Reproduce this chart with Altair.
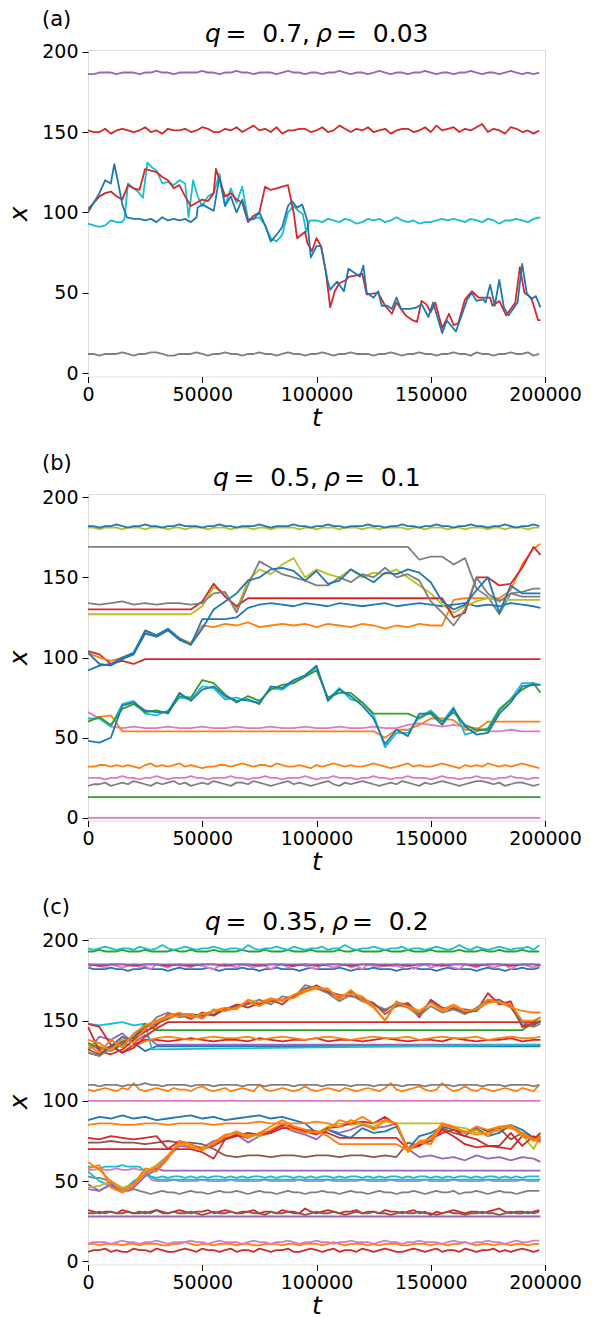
import altair as alt
import pandas as pd

# common time grids
T = [0, 5000, 10000, 15000, 20000, 25000, 30000, 35000, 40000, 45000,
     50000, 55000, 60000, 65000, 70000, 75000, 80000, 85000, 90000, 95000,
     100000, 105000, 110000, 115000, 120000, 125000, 130000, 135000, 140000, 145000,
     150000, 155000, 160000, 165000, 170000, 175000, 180000, 185000, 190000, 195000,
     198000]
T2 = list(range(0, 198000, 2500))   # 80 sample times
T_FULL = [0, 198000]

X_TICKS = [0, 50000, 100000, 150000, 200000]
Y_TICKS = [0, 50, 100, 150, 200]

PAL = {"blue": "#1f77b4", "orange": "#ff7f0e", "green": "#2ca02c", "red": "#d62728",
       "purple": "#9467bd", "brown": "#8c564b", "pink": "#e377c2", "gray": "#7f7f7f",
       "olive": "#bcbd22", "cyan": "#17becf"}

# ---------------- panel (a) ----------------
a_gray = [12, 12, 11, 12, 12, 12, 13, 12, 11, 12, 12, 13, 13, 12, 11, 11, 12, 12, 12, 13,
          12, 11, 12, 12, 13, 12, 12, 11, 12, 12, 13, 12, 12, 11, 12, 13, 12, 12, 11, 12,
          12, 13, 12, 11, 12, 12, 13, 12, 12, 12, 11, 12, 12, 13, 12, 11, 12, 12, 13, 12,
          12, 11, 12, 12, 13, 12, 12, 11, 13, 12, 12, 11, 12, 12, 13, 12, 12, 13, 11, 12]
a_purple = [186, 186, 187, 187, 187, 186, 187, 187, 187, 186, 187, 187, 188, 187, 187, 186, 187, 187, 187, 187,
            188, 187, 187, 186, 187, 187, 188, 187, 187, 186, 187, 187, 187, 186, 187, 188, 187, 187, 186, 187,
            187, 186, 187, 187, 188, 187, 186, 187, 187, 186, 187, 188, 187, 186, 187, 187, 186, 187, 187, 188,
            187, 186, 187, 187, 186, 187, 187, 188, 187, 186, 187, 187, 186, 187, 188, 187, 186, 187, 186, 187]
a_red_top = [151, 150, 150, 152, 149, 151, 152, 151, 150, 151, 153, 150, 151, 149, 152, 151, 151, 152, 150, 151,
             153, 152, 150, 150, 152, 151, 153, 150, 152, 154, 151, 152, 150, 153, 149, 151, 151, 152, 152, 150,
             151, 153, 150, 151, 154, 152, 150, 152, 151, 153, 150, 151, 152, 149, 151, 152, 152, 150, 151, 153,
             150, 154, 151, 152, 153, 150, 152, 151, 153, 155, 150, 152, 151, 149, 153, 152, 150, 151, 149, 151]
a_cyan_t = [0, 2500, 5000, 7500, 10000, 12500, 15000, 16000, 17500, 20000,
            22500, 24000, 26000, 28000, 30000, 32500, 35000, 37500, 40000, 42500,
            44000, 46000, 48000, 50000, 52500, 55000, 57500, 60000, 62500, 65000,
            67500, 70000, 72500, 75000, 77500, 80000, 82500, 85000, 87500, 90000,
            92000, 94000, 95500, 97000, 100000, 102500, 105000, 107500, 110000, 112500,
            115000, 117500, 120000, 122500, 125000, 127500, 130000, 132500, 135000, 137500,
            140000, 142500, 145000, 147500, 150000, 152500, 155000, 157500, 160000, 162500,
            165000, 167500, 170000, 172500, 175000, 177500, 180000, 182500, 185000, 187500,
            190000, 192500, 195000, 198000]
a_cyan = [93, 92, 91, 92, 95, 94, 94, 96, 118, 115,
          112, 109, 131, 128, 126, 118, 119, 117, 120, 118,
          97, 120, 110, 104, 110, 112, 124, 104, 115, 106,
          116, 96, 96, 97, 92, 84, 82, 86, 100, 104,
          101, 99, 88, 95, 95, 94, 96, 95, 94, 96,
          95, 93, 94, 96, 95, 96, 94, 95, 97, 95,
          94, 95, 93, 94, 94, 95, 96, 95, 96, 95,
          94, 96, 95, 94, 96, 95, 93, 95, 95, 96,
          95, 94, 96, 97]
a_red_w_t = [0, 2500, 5000, 7500, 10000, 12500, 15000, 17500, 20000, 22500,
             25000, 27500, 30000, 32500, 35000, 37500, 40000, 42500, 45000, 47500,
             50000, 52500, 55000, 56000, 60000, 62500, 65000, 67500, 70000, 72500,
             75000, 77500, 80000, 82500, 85000, 87500, 90000, 91500, 95000, 96000,
             98000, 100000, 102000, 104000, 106000, 108000, 110000, 113000, 114000, 118000,
             120000, 122000, 127000, 130000, 133000, 135000, 139000, 142000, 144000, 146000,
             148000, 150000, 152000, 155000, 158000, 160000, 162000, 165000, 168000, 171000,
             176000, 177000, 180000, 183000, 187000, 189000, 191000, 194000, 197000, 198000]
a_red_w = [102, 106, 110, 112, 113, 110, 108, 117, 115, 114,
           127, 126, 125, 122, 120, 115, 117, 110, 104, 106,
           108, 107, 112, 127, 110, 112, 108, 106, 94, 98,
           100, 116, 114, 115, 116, 117, 100, 84, 88, 81,
           76, 84, 79, 64, 41, 51, 56, 58, 60, 61,
           62, 49, 50, 42, 37, 44, 36, 33, 32, 45,
           43, 38, 44, 28, 37, 30, 31, 46, 51, 47,
           47, 42, 45, 36, 44, 66, 50, 47, 33, 33]
a_blue_w_t = [0, 2500, 5000, 7500, 10000, 11500, 13000, 15000, 17000, 20000,
              22500, 25000, 27500, 30000, 32500, 35000, 37500, 40000, 42500, 45000,
              47500, 48000, 50000, 52500, 55000, 57500, 60000, 62500, 65000, 67500,
              70000, 72500, 75000, 77500, 80000, 82500, 85000, 87500, 89300, 91500,
              93700, 96000, 97500, 100000, 102000, 104800, 106000, 109000, 112000, 114000,
              117000, 119000, 120500, 122000, 125000, 127000, 128500, 131000, 133000, 135000,
              137000, 141000, 144000, 146000, 149000, 151000, 155000, 157000, 161000, 163000,
              166000, 168000, 170000, 173000, 174000, 176000, 178000, 180000, 182000, 184000,
              188000, 190000, 192000, 194000, 196000, 198000]
a_blue_w = [100, 106, 112, 120, 118, 130, 120, 105, 97, 96,
            96, 95, 96, 94, 97, 95, 96, 95, 96, 94,
            97, 103, 105, 103, 101, 122, 104, 110, 100, 108,
            95, 96, 100, 92, 82, 86, 91, 104, 107, 103,
            105, 95, 72, 79, 79, 58, 52, 57, 51, 65,
            62, 60, 67, 50, 47, 51, 42, 42, 40, 47,
            40, 40, 41, 43, 35, 44, 25, 33, 26, 34,
            46, 50, 45, 46, 44, 55, 42, 58, 41, 36,
            44, 68, 50, 46, 48, 41]

# ---------------- panel (b) ----------------
b_pink0 = [0, 0]
b_green13 = [13, 13]
b_gray21 = [20, 21, 21, 22, 20, 21, 22, 21, 23, 22,
            21, 20, 22, 21, 22, 23, 21, 22, 20, 21,
            22, 21, 23, 22, 21, 20, 22, 22, 21, 23,
            22, 21, 20, 21, 22, 23, 21, 22, 21, 20,
            21, 22, 23, 21, 20, 22, 21, 22, 23, 22,
            21, 20, 21, 22, 21, 23, 22, 21, 20, 22,
            21, 22, 23, 22, 21, 20, 21, 22, 23, 23,
            22, 21, 22, 20, 21, 22, 22, 21, 20, 21]
b_pink25 = [25, 25, 25, 24, 25, 25, 26, 25, 25, 24,
            25, 25, 26, 25, 24, 25, 25, 25, 26, 25,
            25, 24, 25, 25, 25, 26, 25, 25, 24, 25,
            25, 26, 25, 25, 24, 25, 25, 25, 26, 25,
            24, 25, 25, 26, 25, 25, 25, 24, 25, 25,
            26, 25, 25, 24, 25, 25, 26, 25, 25, 25,
            24, 25, 26, 25, 25, 24, 25, 25, 26, 25,
            25, 24, 25, 25, 26, 25, 25, 24, 25, 25]
b_orange33 = [32, 32, 33, 33, 32, 33, 32, 33, 32, 31,
              33, 34, 32, 33, 32, 33, 34, 32, 33, 32,
              31, 32, 32, 33, 33, 32, 33, 34, 33, 32,
              33, 33, 32, 34, 33, 32, 32, 33, 32, 31,
              33, 32, 33, 34, 33, 32, 33, 32, 32, 33,
              34, 33, 32, 31, 32, 33, 34, 32, 33, 32,
              32, 33, 34, 33, 32, 31, 33, 32, 33, 32,
              34, 33, 32, 33, 32, 33, 34, 33, 32, 31]
b_pink56 = [66, 62, 57, 56, 57, 56, 56, 57, 56, 56,
            57, 56, 56, 57, 56, 56, 57, 56, 56, 57,
            56, 56, 57, 56, 56, 57, 56, 56, 58, 59,
            58, 57, 58, 57, 56, 54, 54, 55, 54, 54,
            54]
b_orange_mid_t = [0, 5000, 10000, 15000, 125000, 130000, 135000, 140000, 145000,
                  150000, 155000, 160000, 165000, 170000, 175000, 198000]
b_orange_mid = [60, 63, 64, 54, 54, 50, 55, 55, 58, 62, 62, 61, 55, 55, 60, 60]
b_cyan_w = [62, 62, 57, 71, 73, 65, 64, 67, 75, 74,
            82, 81, 74, 75, 73, 72, 81, 80, 85, 88,
            94, 74, 81, 74, 72, 64, 44, 53, 53, 63,
            67, 60, 69, 52, 54, 56, 68, 74, 84, 84,
            83]
b_green_w = [60, 63, 58, 68, 71, 66, 67, 65, 76, 75,
             86, 84, 77, 72, 76, 73, 80, 83, 84, 88,
             92, 75, 78, 78, 72, 65, 65, 65, 65, 62,
             66, 60, 66, 58, 55, 55, 67, 74, 80, 84,
             78]
b_blue_w2 = [48, 47, 50, 70, 72, 67, 66, 66, 78, 73,
             80, 82, 76, 73, 74, 71, 82, 81, 86, 89,
             95, 73, 80, 76, 70, 62, 46, 55, 51, 65,
             65, 58, 68, 57, 52, 53, 65, 72, 82, 83,
             83]
b_red99_t = [0, 5000, 10000, 15000, 20000, 25000, 198000]
b_red99 = [104, 102, 96, 98, 96, 99, 99]
b_olive_top = [181, 181, 180, 181, 181, 181, 180, 181, 181, 181,
               180, 181, 181, 181, 180, 181, 181, 180, 181, 181,
               181, 180, 181, 181, 181, 180, 181, 181, 181, 180,
               181, 181, 180, 181, 181, 181, 181, 180, 181, 181,
               180, 181, 181, 181, 180, 181, 181, 181, 180, 181,
               181, 180, 181, 181, 181, 181, 180, 181, 181, 180,
               181, 181, 181, 180, 181, 181, 180, 181, 181, 181,
               180, 181, 181, 180, 181, 181, 181, 180, 181, 181]
b_blue_top = [182, 182, 181, 182, 182, 183, 182, 181, 182, 182,
              183, 182, 182, 181, 182, 182, 183, 182, 182, 182,
              181, 182, 182, 183, 182, 182, 181, 182, 182, 182,
              183, 182, 181, 182, 182, 182, 183, 182, 182, 181,
              182, 182, 183, 182, 182, 181, 182, 182, 182, 183,
              182, 182, 181, 182, 182, 183, 182, 182, 181, 182,
              182, 183, 182, 182, 181, 182, 182, 183, 182, 182,
              181, 182, 182, 183, 182, 181, 182, 182, 183, 182]
b_gray169_t = [0, 140000, 145000, 150000, 155000, 160000, 165000, 170000,
               175000, 180000, 185000, 190000, 195000, 198000]
b_gray169 = [169, 169, 161, 163, 163, 158, 162, 143, 138, 127, 140, 141, 143, 143]
b_orange_w = [103, 100, 98, 100, 103, 116, 113, 117, 112, 109,
              120, 119, 121, 120, 122, 119, 120, 121, 120, 121,
              119, 121, 120, 119, 121, 120, 118, 120, 119, 121,
              120, 120, 136, 137, 137, 137, 137, 142, 158, 168,
              171]
b_blue133 = [103, 96, 95, 99, 102, 115, 113, 117, 111, 108,
             124, 124, 124, 125, 131, 133, 134, 133, 132, 134,
             133, 132, 134, 133, 132, 133, 134, 132, 133, 134,
             133, 132, 133, 134, 132, 133, 132, 134, 133, 132,
             131]
b_olive_mid = [127, 127, 127, 127, 127, 127, 127, 127, 127, 127,
               132, 144, 140, 130, 148, 155, 152, 158, 162, 150,
               155, 152, 150, 155, 150, 153, 152, 155, 150, 145,
               140, 133, 128, 132, 135, 137, 136, 136, 136, 136,
               136]
b_red130_t = [0, 45000, 50000, 55000, 60000, 65000, 70000, 155000, 160000,
              165000, 170000, 175000, 180000, 185000, 190000, 195000, 198000]
b_red130 = [130, 130, 135, 146, 138, 132, 137, 137, 125, 128, 150, 150, 145, 146, 156, 169, 164]
b_gray134 = [134, 133, 134, 135, 133, 134, 133, 134, 134, 133,
             134, 140, 141, 128, 145, 160, 156, 152, 150, 148,
             145, 145, 150, 147, 152, 150, 156, 150, 152, 148,
             135, 128, 120, 130, 150, 140, 135, 140, 138, 138,
             138]
b_blue_w1 = [92, 95, 96, 100, 103, 117, 114, 118, 112, 108,
             118, 130, 135, 140, 148, 150, 155, 156, 154, 148,
             154, 146, 148, 155, 151, 147, 153, 152, 155, 153,
             147, 135, 130, 133, 142, 150, 128, 145, 140, 140,
             140]

# ---------------- panel (c) ----------------
c_red7 = [6, 7, 7, 8, 6, 7, 6, 6, 8, 7,
          7, 6, 8, 7, 6, 6, 7, 8, 7, 6,
          8, 7, 7, 6, 7, 8, 6, 7, 7, 6,
          8, 7, 6, 7, 7, 8, 6, 6, 7, 8,
          7, 6, 7, 8, 6, 7, 7, 6, 8, 7,
          6, 7, 8, 7, 6, 6, 7, 8, 7, 6,
          7, 8, 6, 7, 7, 6, 8, 7, 6, 7,
          7, 8, 6, 7, 6, 7, 8, 7, 6, 7]
c_orange11 = [11, 11, 10, 11, 11, 11, 10, 11, 11, 10,
              11, 11, 11, 10, 10, 11, 11, 12, 11, 10,
              11, 11, 10, 11, 11, 11, 10, 11, 11, 10,
              10, 11, 11, 11, 10, 11, 11, 10, 11, 11,
              11, 10, 11, 12, 11, 10, 11, 11, 11, 10,
              11, 10, 11, 11, 11, 10, 10, 11, 11, 11,
              10, 11, 11, 10, 11, 11, 12, 11, 10, 11,
              11, 10, 11, 11, 10, 11, 11, 10, 11, 11]
c_pink12 = [11, 12, 12, 12, 11, 12, 13, 12, 12, 11,
            12, 12, 13, 12, 11, 12, 12, 12, 13, 12,
            12, 11, 12, 13, 12, 12, 12, 11, 12, 13,
            12, 12, 11, 12, 12, 13, 12, 11, 12, 12,
            13, 12, 12, 11, 12, 12, 13, 12, 12, 12,
            11, 12, 13, 12, 12, 11, 12, 12, 13, 12,
            12, 12, 11, 12, 13, 12, 12, 11, 12, 12,
            13, 12, 12, 11, 12, 13, 12, 12, 13, 13]
c_purple28 = [28, 28]
c_red31 = [32, 31, 30, 31, 31, 30, 32, 31, 30, 31,
           30, 31, 32, 31, 30, 31, 32, 31, 30, 31,
           31, 32, 30, 31, 32, 31, 30, 31, 31, 32,
           30, 31, 31, 30, 32, 31, 31, 30, 33, 31,
           30, 31, 32, 31, 30, 31, 31, 32, 30, 31,
           31, 30, 32, 31, 31, 30, 31, 32, 30, 31,
           29, 31, 30, 31, 32, 31, 30, 31, 31, 30,
           31, 32, 33, 31, 30, 31, 31, 30, 31, 32]
c_brown30 = [30, 30, 31, 30, 31, 30, 30, 31, 30, 30,
             31, 30, 32, 30, 30, 31, 30, 30, 31, 30,
             29, 30, 31, 30, 30, 31, 30, 30, 31, 30,
             30, 29, 31, 30, 30, 31, 30, 30, 29, 30,
             31, 30, 30, 31, 30, 29, 30, 31, 30, 30,
             31, 30, 30, 29, 30, 31, 30, 30, 31, 30,
             30, 29, 30, 31, 30, 30, 29, 30, 30, 31,
             30, 30, 29, 30, 31, 30, 30, 31, 30, 31]
c_gray43 = [53, 52, 52, 51, 49, 47, 45, 44, 45, 44,
            43, 42, 43, 44, 43, 43, 42, 43, 44, 43,
            43, 42, 43, 44, 43, 43, 44, 43, 42, 43,
            44, 43, 43, 42, 43, 44, 43, 43, 42, 43,
            43, 44, 43, 43, 42, 43, 44, 43, 43, 42,
            43, 44, 43, 43, 42, 43, 43, 44, 43, 42,
            43, 44, 43, 43, 44, 42, 43, 43, 44, 43,
            42, 43, 44, 43, 43, 42, 43, 44, 44, 44]
c_pink50 = [57, 57, 58, 57, 57, 58, 57, 57, 58, 57,
            57, 51, 50, 50, 50, 51, 50, 50, 50, 50,
            51, 50, 50, 50, 50, 51, 50, 50, 50, 50,
            50, 51, 50, 50, 50, 50, 50, 51, 50, 50,
            50, 50, 51, 50, 50, 50, 50, 50, 51, 50,
            50, 50, 50, 51, 50, 50, 50, 50, 50, 51,
            50, 50, 50, 50, 51, 50, 50, 50, 50, 50,
            51, 50, 50, 50, 50, 50, 51, 50, 50, 50]
c_cyan51_t = [0, 5000, 10000, 15000, 20000, 25000, 30000, 198000]
c_cyan51 = [56, 50, 47, 44, 50, 54, 51, 51]
c_cyan53 = [59, 59, 58, 59, 59, 59, 60, 59, 59, 59,
            56, 53, 52, 53, 52, 53, 53, 52, 53, 52,
            53, 52, 53, 53, 52, 53, 52, 53, 52, 53,
            53, 52, 53, 52, 53, 53, 52, 53, 52, 53,
            52, 53, 53, 52, 53, 52, 53, 53, 52, 53,
            52, 53, 52, 53, 53, 52, 53, 52, 53, 53,
            52, 53, 52, 53, 52, 53, 53, 52, 53, 52,
            53, 53, 52, 53, 52, 53, 52, 53, 53, 53]
c_purple56_t = [0, 5000, 10000, 15000, 20000, 25000, 30000, 33000, 198000]
c_purple56 = [48, 44, 48, 43, 49, 55, 58, 56.5, 56.5]
c_purple_m = [45, 44, 48, 43, 46, 53, 57, 65, 72, 71,
              71, 75, 77, 79, 74, 78, 80, 84, 81, 79,
              76, 82, 80, 82, 85, 83, 84, 86, 70, 65,
              66, 64, 65, 63, 66, 64, 65, 63, 65, 64,
              62]
c_olive_m = [46, 47, 50, 46, 48, 56, 60, 66, 73, 72,
             71, 73, 76, 80, 79, 78, 81, 83, 84, 81,
             80, 84, 86, 85, 86, 84, 87, 86, 86, 86,
             86, 86, 84, 83, 80, 82, 81, 84, 79, 70,
             78]
c_blue89 = [88, 90, 89, 91, 89, 90, 88, 89, 90, 91,
            89, 90, 88, 89, 90, 91, 89, 90, 88, 86,
            80, 82, 79, 77, 83, 80, 81, 84, 70, 78,
            80, 84, 82, 80, 83, 78, 80, 85, 82, 77,
            78]
c_brown74 = [74, 74, 75, 74, 74, 73, 74, 75, 74, 74,
             73, 70, 66, 65, 66, 66, 65, 66, 66, 65,
             66, 66, 65, 66, 66, 65, 66, 65, 74, 72,
             78, 83, 80, 78, 84, 81, 83, 76, 80, 77,
             76]
c_red70 = [70, 70, 70, 70, 70, 70, 70, 70, 70, 70,
           68, 64, 76, 78, 80, 79, 80, 83, 83, 81,
           79, 83, 84, 86, 87, 86, 90, 85, 70, 73,
           75, 82, 78, 73, 71, 72, 71, 70, 78, 76,
           80]
c_red77 = [77, 76, 78, 77, 76, 77, 78, 70, 75, 73,
           70, 72, 76, 79, 77, 80, 81, 85, 84, 82,
           81, 80, 77, 77, 77, 77, 77, 77, 70, 72,
           76, 80, 82, 78, 76, 72, 72, 80, 72, 78,
           75]
c_orange_m2 = [58, 60, 46, 43, 47, 55, 59, 66, 74, 71,
               70, 73, 78, 81, 78, 79, 82, 86, 82, 80,
               81, 78, 73, 73, 73, 73, 73, 73, 69, 74,
               73, 85, 83, 81, 79, 80, 82, 85, 78, 76,
               74]
c_orange_m1 = [62, 57, 50, 44, 48, 58, 56, 64, 75, 73,
               69, 74, 79, 80, 77, 80, 84, 88, 84, 82,
               80, 82, 88, 86, 90, 86, 88, 86, 68, 75,
               76, 86, 84, 80, 84, 82, 84, 85, 80, 75,
               78]
c_orange86 = [85, 86, 86, 85, 85, 86, 86, 85, 86, 86,
              86, 85, 86, 86, 86, 87, 86, 86, 86, 86,
              87, 86, 84, 88, 86, 82, 88, 86, 70, 74,
              76, 86, 84, 80, 82, 78, 84, 83, 80, 76,
              76]
c_pink100 = [100, 100]
c_orange108 = [107, 106, 107, 108, 107, 106, 108, 107, 111, 107,
               106, 107, 108, 107, 106, 108, 107, 107, 106, 108,
               109, 107, 106, 107, 108, 106, 107, 108, 107, 106,
               110, 107, 106, 107, 108, 107, 106, 107, 109, 107,
               106, 107, 108, 107, 106, 108, 107, 106, 107, 108,
               107, 106, 108, 111, 107, 106, 107, 108, 109, 107,
               106, 107, 111, 108, 106, 107, 109, 107, 106, 108,
               107, 106, 107, 108, 107, 106, 108, 107, 106, 110]
c_gray110 = [110, 110, 109, 110, 110, 110, 109, 110, 110, 110,
             111, 110, 110, 109, 110, 110, 110, 110, 109, 110,
             110, 110, 109, 110, 110, 110, 110, 109, 110, 110,
             110, 109, 110, 110, 110, 110, 109, 110, 110, 110,
             110, 109, 110, 110, 110, 110, 109, 110, 110, 110,
             109, 110, 110, 110, 110, 109, 110, 110, 110, 109,
             110, 110, 110, 110, 109, 110, 110, 110, 110, 109,
             110, 110, 110, 109, 110, 110, 110, 110, 109, 110]
c_purple_up_t = [0, 5000, 10000, 15000, 20000, 25000, 30000, 198000]
c_purple_up = [131, 140, 138, 142, 136, 141, 135, 135]
c_blue134_t = [0, 5000, 10000, 15000, 20000, 25000, 30000, 198000]
c_blue134 = [136, 132, 134, 140, 136, 131, 134, 134]
c_cyan135_t = [0, 5000, 10000, 15000, 20000, 25000, 28000, 198000]
c_cyan135 = [148, 147, 148, 149, 147, 148, 132, 135]
c_red138 = [130, 128, 134, 130, 135, 138, 138, 137, 138, 139,
            138, 137, 138, 138, 137, 139, 138, 137, 138, 138,
            139, 137, 138, 138, 137, 138, 139, 138, 137, 138,
            138, 137, 139, 138, 137, 138, 138, 139, 137, 138,
            138]
c_orange139 = [133, 134, 131, 136, 134, 137, 139, 140, 139, 138,
               139, 140, 139, 139, 140, 138, 139, 140, 139, 138,
               139, 140, 139, 138, 139, 140, 139, 139, 140, 138,
               139, 140, 139, 139, 140, 138, 139, 140, 139, 139,
               140]
c_green144_t = [0, 5000, 10000, 15000, 20000, 25000, 30000, 190000, 195000, 198000]
c_green144 = [136, 133, 131, 135, 140, 148, 144, 144, 149, 152]
c_red149_t = [0, 5000, 10000, 15000, 20000, 25000, 30000, 35000, 198000]
c_red149 = [148, 146, 135, 130, 133, 140, 145, 149, 149]
c_red_w = [146, 131, 129, 132, 138, 143, 147, 154, 154, 151,
           155, 153, 157, 160, 158, 161, 163, 160, 166, 168,
           172, 168, 166, 165, 164, 160, 156, 161, 160, 152,
           163, 158, 157, 157, 156, 167, 160, 162, 146, 147,
           150]
c_gray_w = [130, 128, 133, 136, 140, 144, 152, 155, 152, 153,
            152, 156, 156, 158, 160, 163, 160, 165, 164, 172,
            170, 167, 162, 166, 162, 160, 157, 160, 158, 153,
            159, 155, 157, 154, 158, 163, 162, 158, 149, 146,
            148]
c_brown_w = [132, 129, 134, 137, 139, 146, 148, 151, 154, 154,
             153, 154, 157, 159, 161, 160, 162, 163, 165, 170,
             171, 168, 164, 168, 163, 161, 154, 159, 161, 154,
             162, 157, 158, 155, 156, 162, 163, 159, 147, 148,
             149]
c_orange_w2 = [138, 136, 131, 139, 136, 145, 149, 152, 153, 154,
               151, 157, 156, 158, 162, 159, 163, 163, 164, 168,
               170, 170, 163, 169, 163, 158, 150, 162, 158, 155,
               161, 157, 160, 156, 157, 161, 162, 158, 156, 155,
               155]
c_orange_w1 = [135, 130, 138, 133, 142, 147, 150, 153, 155, 152,
               154, 156, 158, 157, 163, 161, 164, 162, 166, 169,
               171, 169, 165, 167, 165, 159, 150, 161, 159, 156,
               161, 156, 159, 156, 157, 163, 161, 160, 150, 150,
               152]
c_blue182 = [183, 182, 182, 182, 183, 182, 182, 181, 182, 182,
             183, 182, 182, 182, 181, 182, 183, 182, 182, 182,
             182, 183, 182, 181, 182, 182, 182, 183, 182, 182,
             181, 182, 182, 183, 182, 182, 182, 181, 182, 183,
             182, 182, 182, 182, 183, 182, 181, 182, 182, 182,
             183, 182, 182, 182, 181, 182, 182, 183, 182, 182,
             182, 181, 182, 183, 182, 182, 182, 182, 181, 182,
             183, 182, 182, 181, 182, 182, 183, 182, 182, 183]
c_pink184 = [183, 185, 184, 183, 185, 184, 183, 184, 185, 183,
             184, 182, 185, 184, 183, 185, 184, 184, 183, 185,
             184, 183, 182, 184, 185, 184, 183, 185, 184, 183,
             185, 184, 182, 184, 185, 183, 184, 185, 184, 183,
             182, 185, 184, 183, 184, 185, 183, 184, 182, 185,
             184, 183, 185, 184, 184, 183, 185, 182, 184, 185,
             183, 184, 185, 184, 183, 182, 185, 184, 183, 185,
             184, 183, 184, 185, 182, 184, 185, 184, 183, 185]
c_red185 = [185, 184, 185, 185, 184, 185, 185, 184, 185, 184,
            185, 185, 184, 185, 185, 184, 185, 185, 184, 185,
            184, 185, 185, 184, 185, 185, 184, 185, 184, 185,
            185, 184, 185, 185, 184, 185, 185, 184, 185, 185,
            184]
c_purple185 = [185, 185]
c_green193 = [193, 193, 194, 193, 193, 193, 194, 193, 193, 193,
              194, 193, 193, 193, 193, 194, 193, 193, 194, 193,
              193, 193, 194, 193, 193, 193, 193, 194, 193, 193,
              193, 194, 193, 193, 193, 194, 193, 193, 193, 194,
              193, 193, 193, 193, 194, 193, 193, 194, 193, 193,
              193, 193, 194, 193, 193, 193, 194, 193, 193, 193,
              194, 193, 193, 193, 193, 194, 193, 193, 193, 194,
              193, 193, 194, 193, 193, 193, 194, 193, 193, 193]
c_cyan195 = [195, 194, 195, 196, 195, 194, 195, 195, 194, 196,
             195, 194, 195, 197, 195, 194, 195, 196, 195, 194,
             195, 195, 196, 195, 194, 195, 195, 194, 197, 195,
             194, 195, 195, 196, 195, 194, 196, 195, 194, 195,
             195, 196, 194, 195, 195, 197, 195, 194, 195, 195,
             196, 195, 194, 195, 195, 196, 194, 195, 195, 194,
             195, 196, 195, 194, 195, 197, 195, 194, 196, 195,
             194, 195, 196, 195, 194, 195, 195, 196, 194, 197]

# (colour, t-grid, values) in drawing order (later on top)
LINES_A = [("gray", T2, a_gray), ("purple", T2, a_purple), ("red", T2, a_red_top),
           ("cyan", a_cyan_t, a_cyan), ("red", a_red_w_t, a_red_w), ("blue", a_blue_w_t, a_blue_w)]
LINES_B = [("pink", T_FULL, b_pink0), ("green", T_FULL, b_green13), ("gray", T2, b_gray21),
           ("pink", T2, b_pink25), ("orange", T2, b_orange33), ("pink", T, b_pink56),
           ("orange", b_orange_mid_t, b_orange_mid), ("cyan", T, b_cyan_w),
           ("green", T, b_green_w), ("blue", T, b_blue_w2), ("red", b_red99_t, b_red99),
           ("olive", T2, b_olive_top), ("blue", T2, b_blue_top),
           ("gray", b_gray169_t, b_gray169), ("orange", T, b_orange_w),
           ("blue", T, b_blue133), ("olive", T, b_olive_mid), ("red", b_red130_t, b_red130),
           ("gray", T, b_gray134), ("blue", T, b_blue_w1)]
LINES_C = [("red", T2, c_red7), ("orange", T2, c_orange11), ("pink", T2, c_pink12),
           ("purple", T_FULL, c_purple28), ("red", T2, c_red31), ("brown", T2, c_brown30),
           ("gray", T2, c_gray43), ("pink", T2, c_pink50), ("cyan", c_cyan51_t, c_cyan51),
           ("cyan", T2, c_cyan53), ("purple", c_purple56_t, c_purple56),
           ("purple", T, c_purple_m), ("olive", T, c_olive_m), ("blue", T, c_blue89),
           ("brown", T, c_brown74), ("red", T, c_red70), ("red", T, c_red77),
           ("orange", T, c_orange_m2), ("orange", T, c_orange_m1), ("orange", T, c_orange86),
           ("pink", T_FULL, c_pink100), ("orange", T2, c_orange108), ("gray", T2, c_gray110),
           ("purple", c_purple_up_t, c_purple_up), ("blue", c_blue134_t, c_blue134),
           ("cyan", c_cyan135_t, c_cyan135), ("red", T, c_red138), ("orange", T, c_orange139),
           ("green", c_green144_t, c_green144), ("red", c_red149_t, c_red149),
           ("red", T, c_red_w), ("gray", T, c_gray_w), ("brown", T, c_brown_w),
           ("orange", T, c_orange_w2), ("orange", T, c_orange_w1),
           ("blue", T2, c_blue182), ("pink", T2, c_pink184), ("red", T, c_red185),
           ("purple", T_FULL, c_purple185), ("green", T2, c_green193), ("cyan", T2, c_cyan195)]

FONT = "DejaVu Sans"
W, H = 457, 326.5
NB = "\u00a0"


def panel(lines, ydom, label, pieces):
    rows = []
    for i, (col, ts, vs) in enumerate(lines):
        n = min(len(ts), len(vs))
        for tt, vv in zip(ts[:n], vs[:n]):
            rows.append({"t": tt, "v": vv, "k": f"{i:02d}", "c": PAL[col]})
    df = pd.DataFrame(rows)
    xa = alt.Axis(values=X_TICKS, format="d", title="t", grid=False, domain=False,
                  labelFont=FONT, labelFontSize=19, labelColor="black", labelPadding=3,
                  labelFlush=False, labelOverlap=False,
                  tickColor="black", tickSize=6, tickWidth=1,
                  titleFont=FONT, titleFontSize=25, titleFontStyle="italic",
                  titleFontWeight="normal", titleColor="black", titlePadding=1)
    ya = alt.Axis(values=Y_TICKS, title="x", grid=False, domain=False,
                  labelFont=FONT, labelFontSize=19, labelColor="black", labelPadding=4,
                  labelFlush=False, labelOverlap=False,
                  tickColor="black", tickSize=6, tickWidth=1,
                  titleFont=FONT, titleFontSize=25, titleFontStyle="italic",
                  titleFontWeight="normal", titleColor="black", titlePadding=10)
    lines_layer = alt.Chart(df).mark_line(strokeWidth=1.8, clip=True, strokeJoin="round").encode(
        x=alt.X("t:Q", scale=alt.Scale(domain=[0, 200000], nice=False, zero=False), axis=xa),
        y=alt.Y("v:Q", scale=alt.Scale(domain=ydom, nice=False, zero=False), axis=ya),
        color=alt.Color("c:N", scale=None),
        detail="k:N",
    )
    layers = [lines_layer]
    layers.append(
        alt.Chart(pd.DataFrame({"s": [label]})).mark_text(
            font=FONT, fontSize=21, align="left", baseline="alphabetic", color="black"
        ).encode(text="s:N", x=alt.value(-46), y=alt.value(-24.5))
    )
    for txt, xpos, italic in pieces:
        layers.append(
            alt.Chart(pd.DataFrame({"s": [txt]})).mark_text(
                font=FONT, fontSize=25, align="left", baseline="alphabetic", color="black",
                fontStyle="italic" if italic else "normal"
            ).encode(text="s:N", x=alt.value(xpos), y=alt.value(-8.5))
        )
    return alt.layer(*layers).properties(width=W, height=H)


pa = panel(LINES_A, [-2, 201], "(a)",
           [("q", 117.0, True), ("=" + NB + NB + "0.7,", 137.5, False),
            ("ρ", 228.0, True), ("=" + NB + NB + "0.03", 248.0, False)])
pb = panel(LINES_B, [-1.6, 202], "(b)",
           [("q", 125.0, True), ("=" + NB + NB + "0.5,", 145.5, False),
            ("ρ", 236.0, True), ("=" + NB + NB + "0.1", 256.0, False)])
pc = panel(LINES_C, [-1.9, 201.4], "(c)",
           [("q", 117.0, True), ("=" + NB + NB + "0.35,", 137.5, False),
            ("ρ", 244.0, True), ("=" + NB + NB + "0.2", 264.0, False)])

chart = alt.vconcat(pa, pb, pc, spacing=117, bounds="flush").properties(
    padding={"left": 6, "top": 8, "right": 5, "bottom": 0},
    background="white",
).configure_view(stroke="black", strokeWidth=1.1).configure(font=FONT)

chart.save("out.html", embed_options={"renderer": "svg", "actions": False})
